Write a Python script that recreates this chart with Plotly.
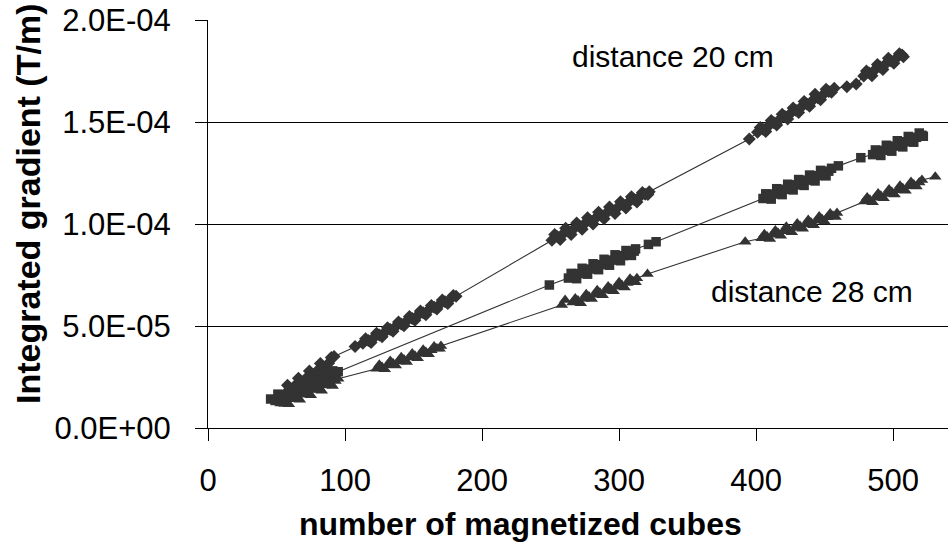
import plotly.graph_objects as go

# Values; y in micro-T/m (1E-6 T/m)
x20 = [56, 58, 60, 62, 64, 66, 68, 70, 72, 74, 76, 78, 80, 82, 84, 86, 88, 90, 92,
       107.3,
       113, 115, 117, 119, 121, 123, 125, 127, 129, 131, 133, 135, 137, 139, 141, 143, 145, 147, 149,
       151, 153, 155, 157, 159, 161, 163, 165, 167, 169, 171, 173, 175, 177, 179, 181,
       251, 253, 255, 257, 259, 261, 263, 265, 267, 269, 271, 273, 275, 277, 279, 281, 283, 285, 287,
       289, 291, 293, 295, 297, 299, 301, 303, 305, 307, 309, 311, 313, 315, 317, 319, 321, 322,
       395,
       401, 403, 405, 407, 409, 411, 413, 415, 417, 419, 421, 423, 425, 427, 429, 431, 433, 435, 437,
       439, 441, 443, 445, 447, 449, 451, 453, 455, 457,
       466.2, 473,
       478.5, 480.5, 482.5, 484.5, 486.5, 488.5, 490.5, 492.5, 494.5, 496.5, 498.5, 500.5, 502.5,
       504.5, 506.5, 507.5]
y20 = [16.5, 20.9, 19.3, 17.7, 21.1, 24.4, 22.8, 21.2, 24.6, 28.0, 26.4, 24.8, 28.2, 31.6, 29.9, 28.3,
       31.7, 34.6, 35.0,
       39.9,
       41.5, 43.8, 42.9, 41.9, 44.2, 46.5, 45.6, 44.7, 46.9, 49.2, 48.3, 47.4, 49.7, 51.9, 51.0, 50.1,
       52.4, 54.7, 53.7, 52.8, 55.1, 57.4, 56.5, 55.5, 57.8, 60.1, 59.2, 58.3, 60.5, 62.8, 61.9, 61.0,
       63.3, 65.0, 64.6,
       92.0, 94.8, 93.8, 92.4, 95.1, 97.9, 96.4, 94.8, 97.7, 100.5, 99.0, 97.4, 100.3, 103.1, 101.6,
       100.0, 102.9, 105.7, 104.2, 102.6, 105.5, 108.3, 106.8, 105.2, 108.1, 110.9, 109.4, 107.8,
       110.7, 113.3, 112.0, 110.8, 113.3, 115.4, 114.6, 114.4, 115.8,
       141.7,
       145.0, 147.3, 146.5, 145.4, 148.1, 150.7, 149.6, 148.5, 151.1, 153.8, 152.7, 151.5, 154.2,
       156.9, 155.8, 154.6, 157.3, 160.0, 158.8, 157.7, 160.4, 163.6, 161.9, 160.9, 163.5, 166.0,
       165.0, 164.6, 166.5,
       167.3, 168.6,
       172.5, 175.0, 174.0, 172.7, 175.5, 178.2, 176.9, 175.7, 178.4, 181.2, 179.9, 178.8, 181.4,
       183.4, 182.9, 182.0]

x24 = [45.7, 49, 51, 53, 55, 57, 59, 61, 63, 65, 67, 69, 71, 73, 75, 77, 79, 81, 83, 85, 87, 89, 91, 93, 95,
       249.1,
       263, 265, 267, 269, 271, 273, 275, 277, 279, 281, 283, 285, 287, 289, 291, 293, 295, 297, 299,
       301, 303, 305, 307, 309, 311, 312,
       321.4, 327,
       405, 407, 409, 411, 413, 415, 417, 419, 421, 423, 425, 427, 429, 431, 433, 435, 437, 439, 441,
       443, 445, 447, 449, 451, 453, 455,
       460, 476.4,
       485, 487, 489, 491, 493, 495, 497, 499, 501, 503, 505, 507, 509, 511, 513, 515, 517, 519, 521, 522]
y24 = [14.2, 13.5, 16.6, 14.7, 12.8, 15.8, 18.9, 17.0, 15.1, 18.2, 21.3, 19.4, 17.4, 20.5, 23.6, 21.7,
       19.8, 22.9, 26.0, 24.1, 22.1, 25.2, 28.0, 26.4, 27.6,
       70.1,
       73.5, 75.8, 74.6, 73.2, 75.7, 78.3, 76.8, 75.4, 77.9, 80.5, 79.0, 77.6, 80.1, 82.7, 81.2, 79.8,
       82.3, 84.9, 83.4, 82.0, 84.5, 87.0, 85.6, 84.6, 86.7, 87.8,
       90.0, 91.3,
       112.5, 114.8, 113.6, 112.2, 114.7, 117.3, 115.9, 114.4, 117.0, 119.5, 118.1, 116.7, 119.2,
       121.8, 120.3, 118.9, 121.5, 124.0, 122.6, 121.1, 123.7, 126.3, 124.8, 123.6, 125.9, 127.3,
       128.5, 132.5,
       134.0, 136.3, 135.1, 133.6, 136.1, 138.6, 137.2, 135.7, 138.2, 140.8, 139.3, 137.8, 140.3,
       142.9, 141.4, 140.1, 142.5, 144.6, 143.5, 143.0]

x28 = [53, 55, 57, 59, 61, 63, 65, 67, 69, 71, 73, 75, 77, 79, 81, 83, 85, 87, 89, 91, 93, 95,
       123, 125, 127, 129, 131, 133, 135, 137, 139, 141, 143, 145, 147, 149, 151, 153, 155, 157, 159,
       161, 163, 165, 167, 169, 170,
       258.2, 260.6,
       266, 268, 270, 272, 274, 276, 278, 280, 282, 284, 286, 288, 290, 292, 294, 296, 298, 300, 302,
       304, 306, 308, 310, 312, 313,
       320.7, 392,
       404, 406, 408, 410, 412, 414, 416, 418, 420, 422, 424, 426, 428, 430, 432, 434, 436, 438, 440,
       442, 444, 446, 448, 450, 452, 454, 456, 458, 459,
       479, 481, 483, 485, 487, 489, 491, 493, 495, 497, 499, 501, 503, 505, 507, 509, 511, 513, 515,
       517, 519, 521,
       530.7]
y28 = [12.0, 14.5, 13.1, 11.6, 14.2, 16.7, 15.3, 13.8, 16.4, 18.9, 17.5, 16.0, 18.6, 21.1, 19.7, 18.2,
       20.8, 23.3, 21.9, 20.6, 23.0, 24.2,
       29.0, 31.0, 29.9, 28.8, 30.8, 32.9, 31.7, 30.6, 32.6, 34.7, 33.6, 32.4, 34.5, 36.5, 35.4, 34.2,
       36.3, 38.4, 37.2, 36.1, 38.1, 40.0, 39.0, 38.8, 40.2,
       60.3, 62.7,
       61.5, 63.5, 62.5, 61.2, 63.4, 65.6, 64.4, 63.2, 65.3, 67.5, 66.3, 65.1, 67.3, 69.4, 68.2, 67.0,
       69.2, 71.4, 70.1, 68.9, 71.1, 73.2, 72.1, 71.5, 73.4,
       75.5, 91.3,
       93.0, 95.0, 93.9, 92.6, 94.7, 96.8, 95.6, 94.3, 96.4, 98.6, 97.3, 96.0, 98.1, 100.3, 99.0, 97.7,
       99.8, 102.0, 100.7, 99.4, 101.6, 103.7, 102.4, 101.1, 103.3, 105.2, 104.1, 103.4, 105.4,
       111.0, 113.0, 111.9, 110.7, 112.9, 115.0, 113.8, 112.6, 114.7, 116.9, 115.7, 114.4, 116.6,
       118.8, 117.5, 116.3, 118.5, 120.6, 119.4, 118.4, 120.4, 121.6,
       123.2]

y_tick_vals = [0, 5e-5, 1e-4, 1.5e-4, 2e-4]
y_tick_text = ["0.0E+00", "5.0E-05", "1.0E-04", "1.5E-04", "2.0E-04"]
x_tick_vals = [0, 100, 200, 300, 400, 500]

assert len(x20) == len(y20) and len(x24) == len(y24) and len(x28) == len(y28)

FONT = "Liberation Sans, Arial, sans-serif"
MARK = "#333333"

fig = go.Figure()
series = [
    ("distance 20 cm", x20, y20, "diamond", 10),
    ("distance 24 cm", x24, y24, "square", 9.5),
    ("distance 28 cm", x28, y28, "triangle-up", 11),
]
for name, xs, ys, sym, sz in series:
    fig.add_trace(go.Scatter(
        x=xs, y=[v * 1e-6 for v in ys], name=name, mode="lines+markers",
        line=dict(color=MARK, width=1.1),
        marker=dict(symbol=sym, size=sz, color=MARK, line=dict(width=0)),
        showlegend=False,
    ))

fig.update_layout(
    width=948, height=548,
    margin=dict(l=208, r=0, t=20, b=120, pad=0),
    paper_bgcolor="white", plot_bgcolor="white",
    font=dict(family=FONT, color="black"),
    xaxis=dict(
        range=[0, 540], tickvals=x_tick_vals, ticks="outside", ticklen=12, tickwidth=1,
        tickcolor="black", showgrid=False, zeroline=False, showline=True, linecolor="black",
        linewidth=1, tickfont=dict(size=31, family=FONT, color="black"), ticklabelstandoff=13,
    ),
    yaxis=dict(
        range=[0, 2e-4], tickvals=y_tick_vals, ticktext=y_tick_text, ticks="outside", ticklen=12,
        tickwidth=1, tickcolor="black", showgrid=True, gridcolor="black", gridwidth=1,
        zeroline=False, showline=True, linecolor="black", linewidth=1,
        tickfont=dict(size=31, family=FONT, color="black"), ticklabelstandoff=18,
    ),
    annotations=[
        dict(text="distance 20 cm", x=339.4, y=182e-6, xref="x", yref="y", showarrow=False,
             font=dict(size=30, family=FONT, color="black"), xanchor="center", yanchor="middle"),
        dict(text="distance 28 cm", x=440.6, y=66.7e-6, xref="x", yref="y", showarrow=False,
             font=dict(size=30, family=FONT, color="black"), xanchor="center", yanchor="middle"),
        dict(text="<b>number of magnetized cubes</b>", x=(520 - 208) / 740, y=(428 - 524) / 408,
             xref="paper", yref="paper", showarrow=False, xanchor="center", yanchor="middle",
             font=dict(size=32, family=FONT, color="black")),
        dict(text="<b>Integrated gradient (T/m)</b>", x=(28 - 208) / 740, y=(428 - 204) / 408,
             xref="paper", yref="paper", showarrow=False, xanchor="center", yanchor="middle",
             textangle=-90, font=dict(size=34, family=FONT, color="black")),
    ],
)

fig.write_html("out.html")
